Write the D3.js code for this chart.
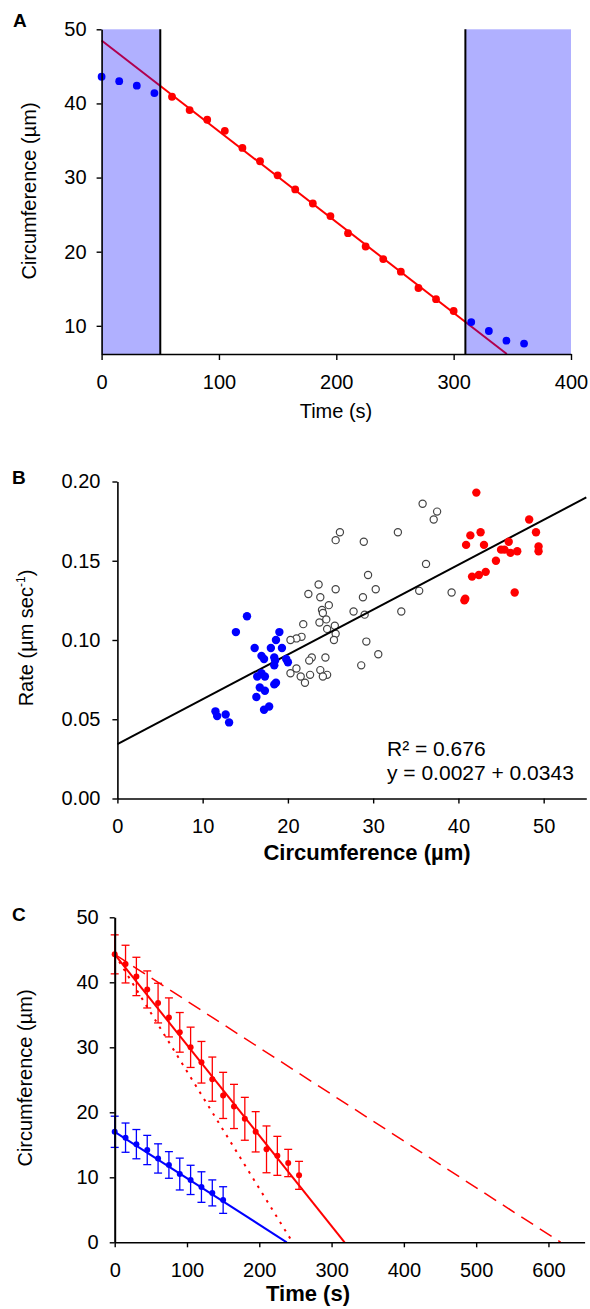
<!DOCTYPE html>
<html><head><meta charset="utf-8">
<script src="https://cdnjs.cloudflare.com/ajax/libs/d3/7.8.5/d3.min.js"></script>
<style>
body{margin:0;background:#fff;}
svg text{font-family:"Liberation Sans",Arial,Helvetica,sans-serif;fill:#000;}
</style></head><body><svg id="c" width="590" height="1309"></svg>
<script>
// ---------- Panel A data ----------
const aTime = [0,15,30,45,60,75,90,105,120,135,150,165,180,195,210,225,240,255,270,285,300,315,330,345,360];
const aCirc = [43.6,43.0,42.4,41.4,40.9,39.1,37.8,36.3,34.0,32.2,30.3,28.4,26.5,24.8,22.5,20.7,19.0,17.3,15.1,13.6,12.0,10.5,9.3,8.0,7.6];
const aPhase = ["b","b","b","b","r","r","r","r","r","r","r","r","r","r","r","r","r","r","r","r","r","b","b","b","b"];
const aBands = [[0,50],[310,400]];
const aFitIntercept = 48.5, aFitSlope = -0.1225;
const aXTicks = [0,100,200,300,400];
const aYTicks = [10,20,30,40,50];

// ---------- Panel B data ----------
const bBlueX = [15.2,13.9,19.0,18.6,16.1,18.0,19.3,16.9,17.2,18.4,18.5,19.8,20.0,18.4,16.9,16.4,17.3,18.4,18.6,16.7,17.3,16.3,17.8,17.2,11.5,11.7,12.7,13.1];
const bBlueY = [0.115,0.105,0.105,0.100,0.095,0.095,0.095,0.090,0.088,0.089,0.087,0.088,0.086,0.084,0.079,0.077,0.077,0.072,0.073,0.070,0.068,0.064,0.058,0.056,0.055,0.052,0.053,0.048];
const bRedX = [42.1,48.3,42.6,41.4,49.1,45.9,40.9,43.0,45.0,45.4,46.1,46.9,49.4,49.4,44.4,43.2,42.4,41.6,46.6,40.7,40.8];
const bRedY = [0.193,0.176,0.168,0.166,0.168,0.162,0.160,0.160,0.157,0.157,0.155,0.156,0.159,0.156,0.150,0.143,0.141,0.140,0.130,0.125,0.126];
const bOpenX = [26.1,25.6,35.8,37.5,37.1,28.9,32.9,36.2,29.4,23.6,22.4,25.6,30.3,23.8,28.8,35.4,39.2,24.8,24.0,24.1,27.7,29.0,33.3,24.5,23.7,21.8,25.5,24.6,25.6,21.6,21.0,20.3,25.4,29.2,30.6,24.4,22.8,22.5,28.6,21.0,23.8,20.3,21.5,22.6,22.0,24.6,24.1];
const bOpenY = [0.168,0.163,0.186,0.181,0.176,0.162,0.168,0.148,0.141,0.135,0.129,0.132,0.132,0.127,0.127,0.131,0.130,0.122,0.119,0.117,0.118,0.116,0.118,0.113,0.111,0.110,0.109,0.107,0.104,0.102,0.101,0.100,0.100,0.099,0.091,0.089,0.089,0.087,0.084,0.082,0.081,0.079,0.077,0.078,0.073,0.078,0.077];
const bFitIntercept = 0.0343, bFitSlope = 0.00283;
const bXTicks = [0,10,20,30,40,50];
const bYTicks = [0,0.05,0.10,0.15,0.20];
const bNote1 = "R² = 0.676";
const bNote2 = "y = 0.0027 + 0.0343";

// ---------- Panel C data ----------
const cRedTime = [0,15,30,45,60,75,90,105,120,135,150,165,180,195,210,225,240,255];
const cRed = [44.3,42.8,40.9,38.9,36.8,34.6,32.3,30.0,27.7,25.1,22.6,20.9,19.0,17.0,14.3,13.3,12.2,10.3];
const cRedErr = [3.0,2.9,2.95,2.85,3.05,3.0,3.05,3.1,3.2,3.4,3.55,3.4,3.3,3.1,3.6,3.0,2.1,2.15];
const cBlueTime = [0,15,30,45,60,75,90,105,120,135,150];
const cBlue = [17.0,16.1,15.1,14.2,12.9,11.9,10.5,9.6,8.5,7.6,6.5];
const cBlueErr = [2.4,2.25,2.25,2.25,2.25,2.05,2.45,2.25,2.35,2.0,2.05];
// fitted / projected lines: [t0, c0, t1, c1]
const cRedSolid = [0,44.3,318,0];
const cRedDashed = [0,44.3,617,0];
const cRedDotted = [0,44.3,246,0];
const cBlueSolid = [0,17.0,238,0];
const cXTicks = [0,100,200,300,400,500,600];
const cYTicks = [0,10,20,30,40,50];

const svg = d3.select("#c");
const RED = "#ff0000", BLUE = "#0000ff";

function styleAxis(g){
  g.select(".domain").attr("stroke","#000").attr("stroke-width",1.6);
  g.selectAll(".tick line").attr("stroke","#000").attr("stroke-width",1.4);
  g.selectAll(".tick text").attr("font-size",20).attr("fill","#000")
    .attr("font-family",'"Liberation Sans",Arial,sans-serif');
}

// ================= Panel A =================
{
  const x = d3.scaleLinear().domain([0,400]).range([101.6,571]);
  const y = d3.scaleLinear().domain([6.2,50]).range([354,29.3]);
  const g = svg.append("g");
  const tEnd = (y.domain()[0]-aFitIntercept)/aFitSlope;
  g.append("line")
    .attr("x1",x(0)).attr("y1",y(aFitIntercept))
    .attr("x2",x(tEnd)).attr("y2",y(aFitIntercept+aFitSlope*tEnd))
    .attr("stroke",RED).attr("stroke-width",2);
  g.selectAll("rect.band").data(aBands).join("rect")
    .attr("x",d=>x(d[0])).attr("width",d=>x(d[1])-x(d[0]))
    .attr("y",y(50)).attr("height",y(y.domain()[0])-y(50))
    .attr("fill","#0000ff").attr("fill-opacity",0.31);
  g.selectAll("line.bd").data([aBands[0][1],aBands[1][0]]).join("line")
    .attr("x1",d=>x(d)).attr("x2",d=>x(d)).attr("y1",y(50)).attr("y2",y(y.domain()[0]))
    .attr("stroke","#000").attr("stroke-width",2);
  g.selectAll("circle").data(aTime).join("circle")
    .attr("cx",d=>x(d)).attr("cy",(d,i)=>y(aCirc[i])).attr("r",3.9)
    .attr("fill",(d,i)=>aPhase[i]==="b"?BLUE:RED);
  const ax = g.append("g").attr("transform",`translate(0,${y(y.domain()[0])})`)
    .call(d3.axisBottom(x).tickValues(aXTicks).tickSize(6).tickSizeOuter(0).tickPadding(15));
  styleAxis(ax);
  const ay = g.append("g").attr("transform",`translate(${x(0)},0)`)
    .call(d3.axisLeft(y).tickValues(aYTicks).tickSize(5).tickSizeOuter(0).tickPadding(10));
  styleAxis(ay);
  g.append("text").attr("x",13).attr("y",26.7).attr("font-size",19).attr("font-weight","bold").text("A");
  g.append("text").attr("transform","translate(36,191) rotate(-90)").attr("text-anchor","middle")
    .attr("font-size",20).text("Circumference (µm)");
  g.append("text").attr("x",336).attr("y",418).attr("text-anchor","middle").attr("font-size",20).text("Time (s)");
}

// ================= Panel B =================
{
  const x = d3.scaleLinear().domain([0,55]).range([117.4,586.3]);
  const y = d3.scaleLinear().domain([0,0.2]).range([798.5,481.5]);
  const g = svg.append("g");
  g.selectAll("circle.o").data(bOpenX).join("circle").attr("class","o")
    .attr("cx",d=>x(d)).attr("cy",(d,i)=>y(bOpenY[i])).attr("r",3.6)
    .attr("fill","#fff").attr("stroke","#444").attr("stroke-width",1.2);
  g.append("line")
    .attr("x1",x(0)).attr("y1",y(bFitIntercept))
    .attr("x2",x(55)).attr("y2",y(bFitIntercept+bFitSlope*55))
    .attr("stroke","#000").attr("stroke-width",2);
  g.selectAll("circle.bl").data(bBlueX).join("circle").attr("class","bl")
    .attr("cx",d=>x(d)).attr("cy",(d,i)=>y(bBlueY[i])).attr("r",4.2).attr("fill",BLUE);
  g.selectAll("circle.rd").data(bRedX).join("circle").attr("class","rd")
    .attr("cx",d=>x(d)).attr("cy",(d,i)=>y(bRedY[i])).attr("r",4.2).attr("fill",RED);
  const ax = g.append("g").attr("transform",`translate(0,${y(0)})`)
    .call(d3.axisBottom(x).tickValues(bXTicks).tickSize(5).tickSizeOuter(0).tickPadding(15));
  styleAxis(ax);
  const ay = g.append("g").attr("transform",`translate(${x(0)},0)`)
    .call(d3.axisLeft(y).tickValues(bYTicks).tickSize(5).tickSizeOuter(0).tickPadding(12).tickFormat(d3.format(".2f")));
  styleAxis(ay);
  g.append("text").attr("x",12).attr("y",484).attr("font-size",19).attr("font-weight","bold").text("B");
  const yl = g.append("text").attr("transform","translate(33,638) rotate(-90)").attr("text-anchor","middle")
    .attr("font-size",20);
  yl.append("tspan").text("Rate (µm sec");
  yl.append("tspan").attr("font-size",12).attr("dy",-8).text("-1");
  yl.append("tspan").attr("dy",8).text(")");
  g.append("text").attr("x",367).attr("y",860).attr("text-anchor","middle").attr("font-size",22)
    .attr("font-weight","bold").text("Circumference (µm)");
  g.append("text").attr("x",387).attr("y",755.5).attr("font-size",21).text(bNote1);
  g.append("text").attr("x",387).attr("y",780).attr("font-size",21).text(bNote2);
}

// ================= Panel C =================
{
  const x = d3.scaleLinear().domain([0,650]).range([114.7,584.6]);
  const y = d3.scaleLinear().domain([0,50]).range([1242.3,917.3]);
  const g = svg.append("g");
  const seg = (arr,color,dash,w)=>g.append("line")
    .attr("x1",x(arr[0])).attr("y1",y(arr[1])).attr("x2",x(arr[2])).attr("y2",y(arr[3]))
    .attr("stroke",color).attr("stroke-width",w).attr("stroke-dasharray",dash);
  seg(cRedDashed,RED,"14,8",1.5);
  seg(cRedDotted,RED,"2.5,6",2);
  seg(cRedSolid,RED,null,2);
  seg(cBlueSolid,BLUE,null,2);
  function errs(times,vals,errv,color){
    const eg = g.append("g").attr("stroke",color).attr("stroke-width",1.3);
    times.forEach((t,i)=>{
      const cx = x(t);
      eg.append("line").attr("x1",cx).attr("x2",cx).attr("y1",y(vals[i]+errv[i])).attr("y2",y(vals[i]-errv[i]));
      eg.append("line").attr("x1",cx-4).attr("x2",cx+4).attr("y1",y(vals[i]+errv[i])).attr("y2",y(vals[i]+errv[i]));
      eg.append("line").attr("x1",cx-4).attr("x2",cx+4).attr("y1",y(vals[i]-errv[i])).attr("y2",y(vals[i]-errv[i]));
    });
    g.append("g").selectAll("circle").data(times).join("circle")
      .attr("cx",d=>x(d)).attr("cy",(d,i)=>y(vals[i])).attr("r",3).attr("fill",color);
  }
  errs(cRedTime,cRed,cRedErr,RED);
  errs(cBlueTime,cBlue,cBlueErr,BLUE);
  const ax = g.append("g").attr("transform",`translate(0,${y(0)})`)
    .call(d3.axisBottom(x).tickValues(cXTicks).tickSize(5).tickSizeOuter(0).tickPadding(16));
  styleAxis(ax);
  const ay = g.append("g").attr("transform",`translate(${x(0)},0)`)
    .call(d3.axisLeft(y).tickValues(cYTicks).tickSize(5).tickSizeOuter(0).tickPadding(11));
  styleAxis(ay);
  ay.select(".domain").attr("stroke-width",2);
  g.append("text").attr("x",12).attr("y",920.7).attr("font-size",19).attr("font-weight","bold").text("C");
  g.append("text").attr("transform","translate(32,1078) rotate(-90)").attr("text-anchor","middle")
    .attr("font-size",20).text("Circumference (µm)");
  g.append("text").attr("x",308).attr("y",1301).attr("text-anchor","middle").attr("font-size",22)
    .attr("font-weight","bold").text("Time (s)");
}
</script></body></html>
